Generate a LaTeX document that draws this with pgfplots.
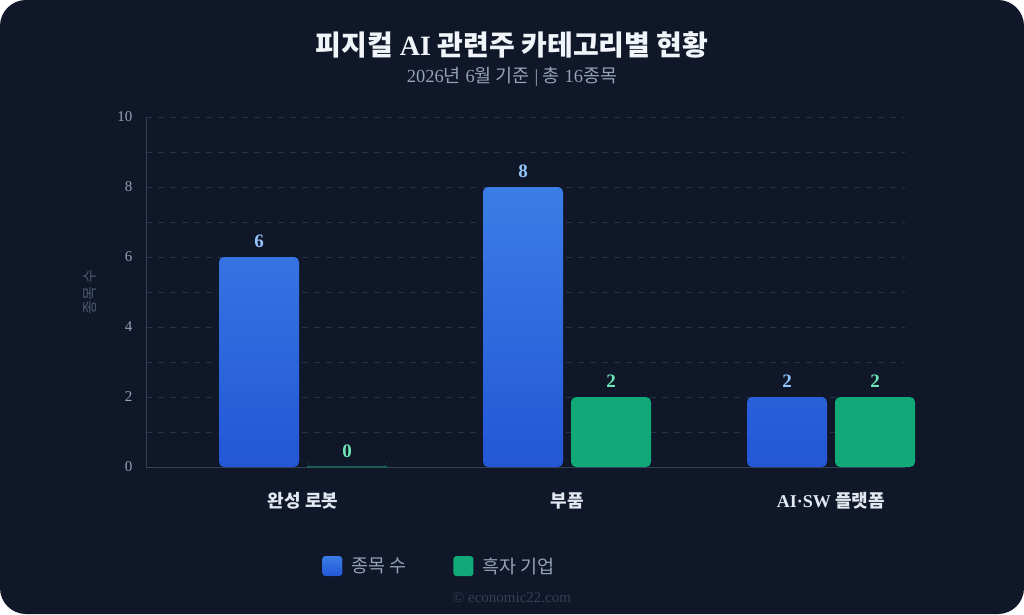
\documentclass[border=0pt]{standalone}
\usepackage{fontspec}
\setmainfont{Liberation Serif}
\newfontfamily\kr{Noto Sans CJK KR}
\usepackage{pgfplots}
\pgfplotsset{compat=1.18}
\definecolor{bg}{HTML}{0F1729}
\definecolor{blueT}{HTML}{3B7DE6}
\definecolor{blueB}{HTML}{2357D6}
\definecolor{greenB}{HTML}{11A977}
\definecolor{greenZ}{HTML}{1A5E50}
\definecolor{titlec}{HTML}{F1F5F9}
\definecolor{subc}{HTML}{94A3B8}
\definecolor{tickc}{HTML}{94A3B8}
\definecolor{catc}{HTML}{E2E8F0}
\definecolor{ylabc}{HTML}{4B5A70}
\definecolor{axisc}{HTML}{334155}
\definecolor{gridc}{HTML}{263348}
\definecolor{lblue}{HTML}{93C5FD}
\definecolor{lgreen}{HTML}{6EE7B7}
\definecolor{wmc}{HTML}{334155}
\begin{document}
\begin{tikzpicture}[x=1pt,y=1pt]
\fill[white] (0,0) rectangle (1024,614);
\fill[bg, rounded corners=26pt] (0,0) rectangle (1024,614);
\node[text=titlec, font=\fontsize{28}{32}\selectfont\bfseries] at (512,569) {{\kr 피지컬} AI {\kr 관련주 카테고리별 현황}};
\node[text=subc, font=\fontsize{18.5}{21}\selectfont] at (512,537) {2026{\kr 년} 6{\kr 월 기준} | {\kr 총} 16{\kr 종목}};
\node[text=wmc, font=\fontsize{15}{18}\selectfont] at (512,16) {\textcopyright\ economic22.com};
\begin{axis}[
  at={(146pt,147pt)}, anchor=south west,
  scale only axis, width=759pt, height=350pt,
  xmin=-0.5947, xmax=2.2803, ymin=0, ymax=10,
  axis lines=left, axis line style={draw=axisc, line width=1pt, -},
  xtick={0,1,2}, xticklabels={{\kr 완성 로봇},{\kr 부품},{AI·SW \kr 플랫폼}},
  x tick label style={text=catc, font=\fontsize{18}{20}\selectfont\bfseries, yshift=-22pt},
  ytick={0,2,...,10}, minor ytick={1,3,...,9},
  y tick label style={text=tickc, font=\fontsize{15}{18}\selectfont, xshift=-10pt},
  /pgf/number format/assume math mode=true,
  major tick length=0pt, minor tick length=0pt,
  ymajorgrids, yminorgrids,
  major grid style={draw=gridc, dash pattern=on 6pt off 6pt, line width=0.8pt},
  minor grid style={draw=gridc, dash pattern=on 6pt off 6pt, line width=0.8pt},
  ylabel={\kr 종목 수}, ylabel style={text=ylabc, font=\fontsize{15}{17}\selectfont, yshift=14pt},
  ybar, bar width=80pt,
  legend columns=2,
  legend style={at={(axis description cs:0.232,-0.283)}, anchor=west, draw=none, fill=none, text=tickc, font=\fontsize{18.5}{21}\selectfont, inner sep=0pt, /tikz/every even column/.append style={column sep=45pt}},
  clip=false,
]
\addplot[bar shift=-44pt, draw=none, top color=blueT, bottom color=blueB, rounded corners=5pt,
  nodes near coords, every node near coord/.append style={text=lblue, font=\fontsize{19}{22}\selectfont\bfseries, yshift=6pt},
  legend image code/.code={\fill[top color=blueT, bottom color=blueB, rounded corners=3pt] (0pt,-10pt) rectangle (20pt,10pt); \path (27pt,0pt);}]
  coordinates {(0,6) (1,8) (2,2)};
\addlegendentry{\kr 종목 수}
\addplot[bar shift=44pt, draw=none, fill=greenB, rounded corners=5pt,
  nodes near coords, every node near coord/.append style={text=lgreen, font=\fontsize{19}{22}\selectfont\bfseries, yshift=6pt},
  legend image code/.code={\fill[greenB, rounded corners=3pt] (0pt,-10pt) rectangle (20pt,10pt); \path (27pt,0pt);}]
  coordinates {(0,0) (1,2) (2,2)};
\addlegendentry{\kr 흑자 기업}
\addplot[forget plot, bar shift=44pt, draw=greenZ, fill=greenZ, line width=2pt]
  coordinates {(0,0)};
\end{axis}
\end{tikzpicture}
\end{document}
